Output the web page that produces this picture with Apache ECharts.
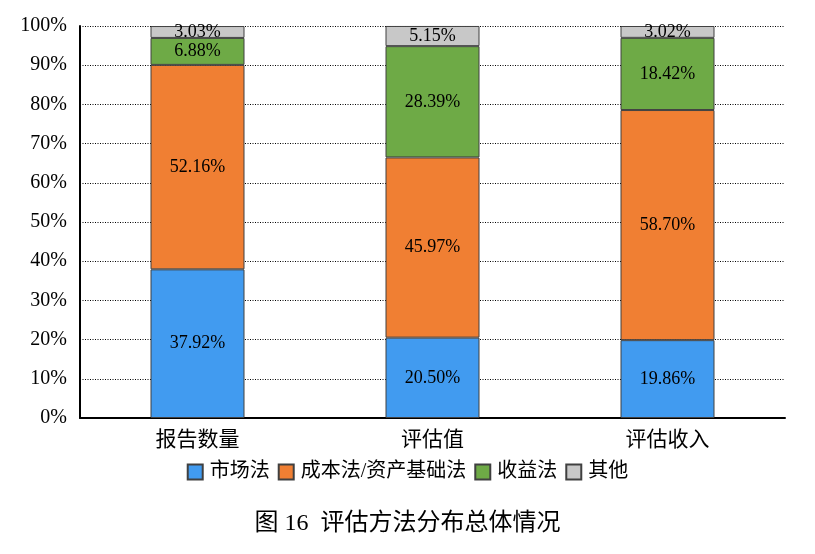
<!DOCTYPE html>
<html><head><meta charset="utf-8">
<script src="https://cdn.jsdelivr.net/npm/echarts@6/dist/echarts.min.js"></script>
<style>html,body{margin:0;padding:0;background:#fff}#c{width:815px;height:554px}</style>
</head><body><div id="c"></div>
<script>
const categories = ['报告数量', '评估值', '评估收入'];
const seriesNames = ['市场法', '成本法/资产基础法', '收益法', '其他'];
const marketValues = [37.92, 20.50, 19.86];
const costValues = [52.16, 45.97, 58.70];
const incomeValues = [6.88, 28.39, 18.42];
const otherValues = [3.03, 5.15, 3.02];
const yTicks = [0, 10, 20, 30, 40, 50, 60, 70, 80, 90, 100];
const colors = ['#419BF0', '#F07F33', '#6EAA46', '#C8C8C8'];
const FONT = "'Times New Roman', 'Liberation Serif', 'Noto Sans CJK SC', serif";

const allValues = [marketValues, costValues, incomeValues, otherValues];
const chart = echarts.init(document.getElementById('c'));
chart.setOption({
  animation: false,
  title: {
    text: '图 16  评估方法分布总体情况',
    left: 'center', top: 507,
    textStyle: { fontFamily: FONT, fontSize: 24, fontWeight: 'normal', color: '#000' }
  },
  legend: {
    data: seriesNames, left: 'center', top: 457,
    itemWidth: 15, itemHeight: 15, itemGap: 8,
    icon: 'rect',
    textStyle: { fontFamily: FONT, fontSize: 20, color: '#000', padding: [0, 0, 0, 2] }
  },
  grid: { left: 80, right: 30, top: 26, bottom: 136 },
  xAxis: {
    type: 'category', data: categories,
    axisLine: { lineStyle: { color: '#000', width: 2 } },
    axisTick: { show: false },
    axisLabel: { fontFamily: FONT, fontSize: 21, color: '#000', margin: 12 }
  },
  yAxis: {
    type: 'value', min: 0, max: 100, interval: 10,
    axisLine: { show: true, lineStyle: { color: '#000', width: 2 } },
    axisTick: { show: false },
    axisLabel: { fontFamily: FONT, fontSize: 20, color: '#000', margin: 13,
      formatter: v => yTicks.includes(v) ? v + '%' : '' },
    splitLine: { lineStyle: { color: '#000', type: [1, 1.5], width: 1 } }
  },
  series: seriesNames.map((n, i) => ({
    name: n, type: 'bar', stack: 'total', barWidth: '40%',
    data: allValues[i],
    itemStyle: { color: colors[i], borderColor: '#404040', borderWidth: 1 },
    label: { show: true, position: 'inside', fontFamily: FONT, fontSize: 18, color: '#000',
      formatter: p => p.value.toFixed(2) + '%' }
  }))
});
</script></body></html>
